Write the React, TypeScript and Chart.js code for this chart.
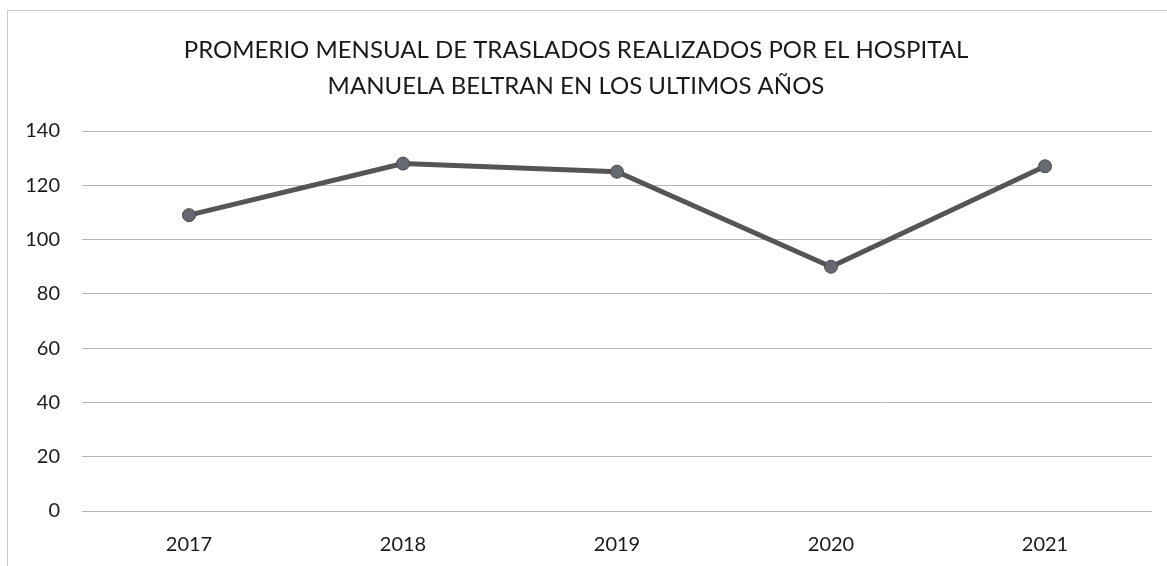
import React, { useEffect, useRef } from "react";
import { Chart, registerables } from "chart.js";

Chart.register(...registerables);

const titleLines = [
  "PROMERIO MENSUAL DE TRASLADOS REALIZADOS POR EL HOSPITAL",
  "MANUELA BELTRAN EN LOS ULTIMOS AÑOS",
];
const years = ["2017", "2018", "2019", "2020", "2021"];
const traslados = [109, 128, 125, 90, 127];
const yMin = 0;
const yMax = 140;
const yStep = 20;

export default function App() {
  const ref = useRef<HTMLCanvasElement | null>(null);

  useEffect(() => {
    if (!ref.current) return;
    const chart = new Chart(ref.current, {
      type: "line",
      data: {
        labels: years,
        datasets: [
          {
            label: "Traslados",
            data: traslados,
            borderColor: "#555555",
            borderWidth: 5,
            pointRadius: 6.5,
            pointBackgroundColor: "#666a70",
            pointBorderColor: "#4a4a4a",
            pointBorderWidth: 1,
            tension: 0,
          },
        ],
      },
      options: {
        animation: false,
        responsive: false,
        maintainAspectRatio: false,
        layout: { padding: { left: 0, right: 15, top: 0, bottom: 0 } },
        plugins: {
          legend: { display: false },
          tooltip: { enabled: false },
          title: {
            display: true,
            text: titleLines,
            color: "#1a1a1a",
            font: { family: "Lato", size: 24, weight: "normal", lineHeight: 1.5 },
            padding: { top: 32, bottom: 27 },
          },
        },
        scales: {
          x: {
            offset: true,
            afterFit: (scale: any) => {
              scale.height = 55;
            },
            grid: { display: false, drawTicks: false },
            border: { display: false },
            ticks: {
              color: "#1a1a1a",
              font: { family: "Lato", size: 20 },
              padding: 22,
            },
          },
          y: {
            min: yMin,
            max: yMax,
            afterFit: (scale: any) => {
              scale.width = 82;
            },
            grid: { color: "#b5b5b5", lineWidth: 1, drawTicks: false },
            border: { display: false },
            ticks: {
              stepSize: yStep,
              color: "#1a1a1a",
              font: { family: "Lato", size: 20 },
              padding: 22,
            },
          },
        },
      },
    });
    return () => chart.destroy();
  }, []);

  return (
    <div
      style={{
        position: "fixed",
        left: 0,
        top: 0,
        width: 1167,
        height: 566,
        overflow: "hidden",
        background: "#fff",
      }}
    >
      <div
        style={{
          position: "absolute",
          left: 7,
          top: 10,
          width: 1300,
          height: 700,
          borderLeft: "1px solid #c8c8c8",
          borderTop: "1px solid #c8c8c8",
        }}
      />
      <canvas
        ref={ref}
        width={1167}
        height={566}
        style={{ position: "absolute", left: 0, top: 0, width: 1167, height: 566 }}
      />
    </div>
  );
}
